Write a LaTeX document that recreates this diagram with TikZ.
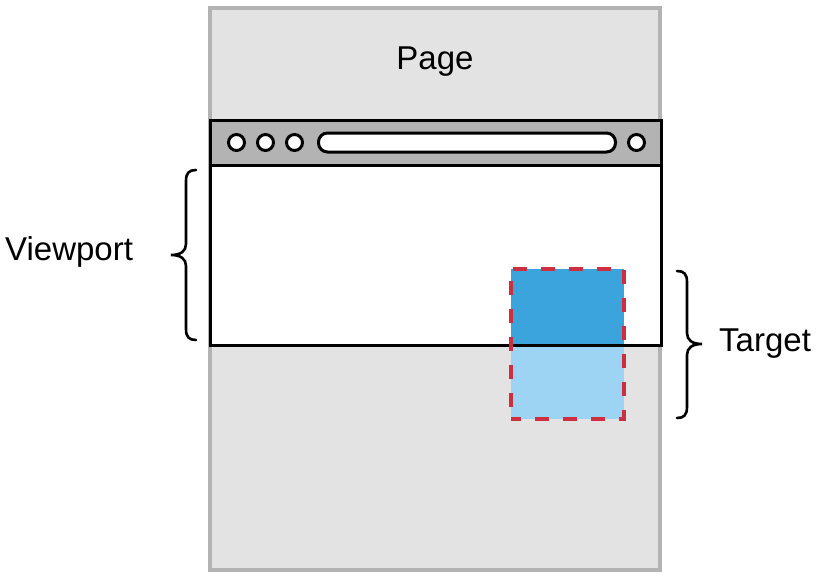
\documentclass[tikz,border=0pt]{standalone}
\usepackage{fontspec}
\setmainfont{Liberation Sans}
\definecolor{pagefill}{HTML}{E3E3E3}
\definecolor{pageline}{HTML}{B3B3B3}
\definecolor{barfill}{HTML}{B3B3B3}
\definecolor{tdark}{HTML}{3BA4DC}
\definecolor{tlight}{HTML}{9ED4F3}
\definecolor{tred}{HTML}{CF2E3F}
\begin{document}
\begin{tikzpicture}[x=1pt,y=-1pt,
  lbl/.style={font=\fontsize{33}{38}\selectfont, inner sep=0pt},
  dot/.style={circle, draw=black, fill=white, line width=3pt, minimum size=16pt, inner sep=0pt},
  bracel/.style={line width=2.6pt, line cap=round}]
\useasboundingbox (0,0) rectangle (823,581);
% page
\node[draw=pageline, fill=pagefill, line width=3.5pt, minimum width=450pt, minimum height=562pt, inner sep=0pt] (page) at (435,289) {};
\node[lbl] (pagelbl) at (435,62) {Page};
% viewport window
\node[draw=black, fill=white, line width=3pt, minimum width=451pt, minimum height=181pt, inner sep=0pt] (view) at (435.5,255) {};
% target
\fill[tdark] (511,269) rectangle (624,345);
\fill[tlight] (511,345) rectangle (624,419);
\draw[black, line width=3pt] (210,345) -- (661,345);
\node[draw=tred, line width=3.3pt, dash pattern=on 14pt off 14pt, dash phase=4pt, minimum width=113pt, minimum height=150pt, inner sep=0pt] (target) at (567.5,344) {};
% toolbar
\node[draw=black, fill=barfill, line width=3pt, minimum width=451pt, minimum height=45pt, inner sep=0pt] (bar) at (435.5,142.5) {};
\node[dot] (d1) at (236.5,142.5) {};
\node[dot] (d2) at (265.5,142.5) {};
\node[dot] (d3) at (294.5,142.5) {};
\node[dot] (d4) at (636.5,142.5) {};
\node[draw=black, fill=white, line width=3pt, rounded corners=9pt, minimum width=297pt, minimum height=19pt, inner sep=0pt] (url) at (467,142.5) {};
% braces
\draw[bracel] (196,170) .. controls (189,170) and (186,173) .. (186,181) -- (186,244) .. controls (186,251) and (181,255) .. (171,255) .. controls (181,255) and (186,259) .. (186,266) -- (186,329) .. controls (186,337) and (189,340) .. (196,340);
\draw[bracel] (677,271) .. controls (684,271) and (687,274) .. (687,282) -- (687,333) .. controls (687,340) and (692,344) .. (702,344) .. controls (692,344) and (687,348) .. (687,355) -- (687,407) .. controls (687,415) and (684,418) .. (677,418);
\node[lbl, anchor=west] (vplbl) at (5,252) {Viewport};
\node[lbl, anchor=west] (tglbl) at (719,344) {Target};
\end{tikzpicture}
\end{document}
